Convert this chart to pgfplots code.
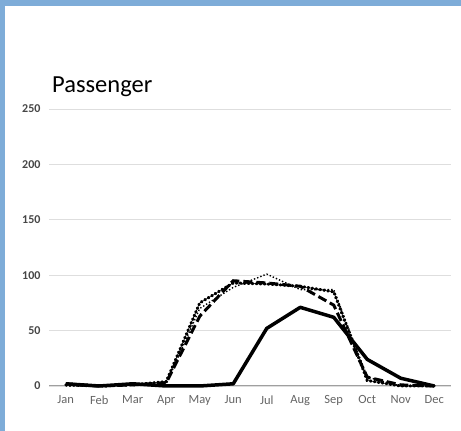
\documentclass[border=0pt]{standalone}
\usepackage{pgfplots}
\pgfplotsset{compat=1.18}
\usepackage{fontspec}
\setmainfont{Carlito}
\definecolor{frame}{RGB}{126,172,216}
\definecolor{tickgray}{RGB}{100,100,100}
\definecolor{ytickgray}{RGB}{70,70,70}
\definecolor{gridgray}{RGB}{222,222,222}
\begin{document}
\begin{tikzpicture}[x=1pt,y=1pt]
\useasboundingbox (0,0) rectangle (461,431);
\fill[frame] (0,425) rectangle (461,431);
\fill[frame] (0,0) rectangle (5,431);
\node[anchor=base west, inner sep=0pt, font=\fontsize{24.5}{28}\selectfont] at (52,338.3) {Passenger};
\begin{axis}[
  at={(49pt,45pt)}, anchor=south west,
  scale only axis, width=402pt, height=277pt,
  xmin=-0.5, xmax=11.5, ymin=0, ymax=250,
  clip=false,
  axis line style={draw=none},
  major tick length=0pt,
  xtick={0,...,11},
  xticklabels={Jan,Feb,Mar,Apr,May,Jun,Jul,Aug,Sep,Oct,Nov,Dec},
  ytick={0,50,100,150,200,250},
  ymajorgrids, grid style={gridgray, line width=0.8pt},
  extra y ticks={0}, extra y tick labels={},
  extra y tick style={grid style={gray!75, line width=1pt}},
  tick label style={font=\fontsize{12.5}{14}\selectfont, text=tickgray},
  /pgf/number format/assume math mode=true,
  yticklabel style={xshift=-5pt, font=\fontsize{12}{14}\selectfont\bfseries, text=ytickgray},
  xticklabel style={yshift=-6pt},
]
\addplot[black, line width=1.4pt, dotted] coordinates {(0,0) (1,0) (2,1) (3,2) (4,70) (5,89) (6,101) (7,87) (8,87) (9,8) (10,0) (11,0)};
\addplot[black, line width=3pt, dash pattern=on 1pt off 3pt, line cap=round] coordinates {(0,1) (1,0) (2,1) (3,4) (4,75) (5,93) (6,92) (7,90) (8,85) (9,5) (10,0) (11,0)};
\addplot[black, line width=3pt, dash pattern=on 9pt off 4pt] coordinates {(0,2) (1,0) (2,1) (3,3) (4,63) (5,95) (6,93) (7,90) (8,73) (9,8) (10,1) (11,0)};
\addplot[black, line width=3.5pt, line join=round] coordinates {(0,2) (1,0) (2,2) (3,0) (4,0) (5,2) (6,52) (7,71) (8,62) (9,24) (10,7) (11,0)};
\end{axis}
\end{tikzpicture}
\end{document}
